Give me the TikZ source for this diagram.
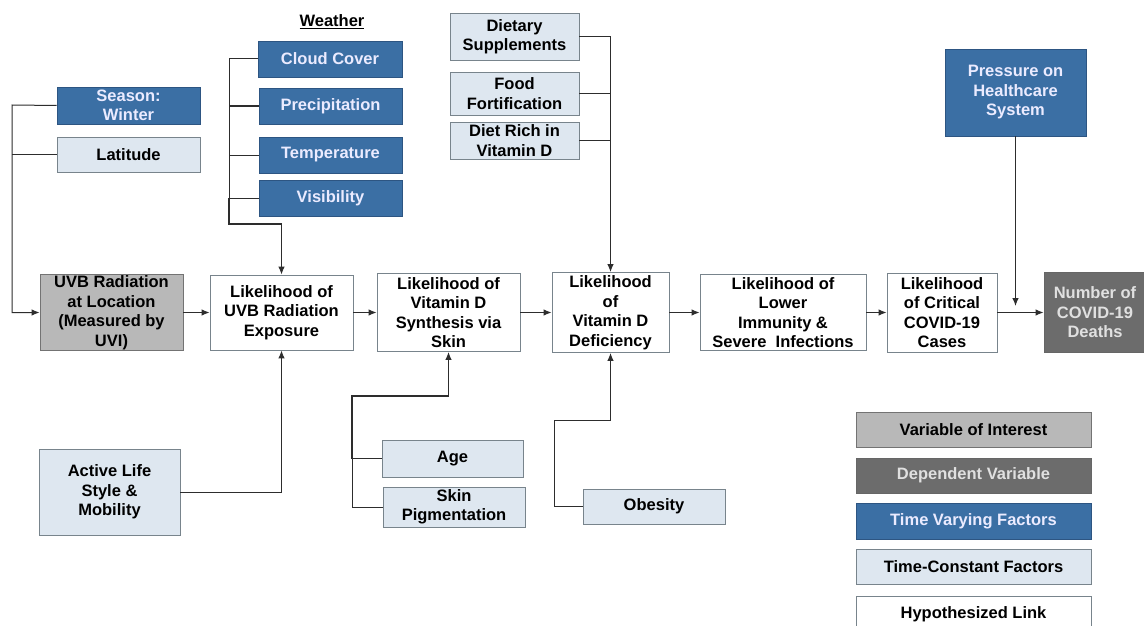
\documentclass[tikz,border=0pt]{standalone}
\usepackage{fontspec}
\setmainfont{Liberation Sans}
\usetikzlibrary{arrows.meta}
\definecolor{tvblue}{RGB}{59,111,164}
\definecolor{tvborder}{RGB}{45,85,130}
\definecolor{lightfill}{RGB}{222,231,240}
\definecolor{voigray}{RGB}{184,184,184}
\definecolor{depgray}{RGB}{108,108,108}
\definecolor{boxline}{RGB}{120,132,140}
\definecolor{linegray}{RGB}{45,45,45}
\begin{document}
\begin{tikzpicture}[x=1pt,y=-1pt,
  font=\bfseries\fontsize{16.5}{19.5}\selectfont,
  box/.style={draw=boxline, line width=0.9pt, align=center, inner sep=1pt, text=black},
  wbox/.style={box, fill=white},
  lbox/.style={box, fill=lightfill},
  bbox/.style={box, fill=tvblue, draw=tvborder, text=white!92!blue},
  gbox/.style={box, fill=voigray, draw=black!55},
  dbox/.style={box, fill=depgray, draw=black!60, text=white!88!black},
  wh/.style 2 args={minimum width=#1pt, minimum height=#2pt},
  conn/.style={draw=linegray, line width=1pt},
  heavy/.style={draw=linegray, line width=2pt},
  arr/.style={conn, -{Latex[length=8pt,width=6.5pt]}}]
\useasboundingbox (0,0) rectangle (1144,626);
\fill[white] (0,0) rectangle (1144,626);

% weather
\node (wlabel) at (332,22) {\underline{Weather}};
\node[bbox, wh={144}{36}] (cloud) at (330,59) {Cloud Cover};
\node[bbox, wh={143}{36}] (precip) at (330.5,106) {Precipitation};
\node[bbox, wh={143}{36}] (temp) at (330.5,155) {Temperature};
\node[bbox, wh={143}{36}] (vis) at (330.5,198) {Visibility};

% season / latitude
\node[bbox, wh={143}{37}] (season) at (128.5,105.5) {Season:\\Winter};
\node[lbox, wh={143}{35}] (lat) at (128.5,154.5) {Latitude};

% main chain
\node[gbox, wh={143}{75}] (uvb) at (111.5,312.5) {UVB Radiation\\at Location\\(Measured by\\UVI)};
\node[wbox, wh={143}{75}] (expo) at (281.5,312.5) {Likelihood of\\UVB Radiation\\Exposure};
\node[wbox, wh={143}{78}] (synth) at (448.5,312.5) {Likelihood of\\Vitamin D\\Synthesis via\\Skin};
\node[wbox, wh={117}{80}] (defic) at (610.5,312.5) {Likelihood\\of\\Vitamin D\\Deficiency};
\node[wbox, wh={166}{76}] (immun) at (783,312.5) {Likelihood of\\Lower\\Immunity \&\\Severe\ \ Infections};
\node[wbox, wh={110}{79}] (crit) at (942,312.5) {Likelihood\\of Critical\\COVID-19\\Cases};
\node[dbox, wh={102}{80}] (deaths) at (1095,312.5) {Number of\\COVID-19\\Deaths};

% pressure
\node[bbox, wh={141}{87}] (press) at (1015.5,92.5) {Pressure on\\Healthcare\\System};

% diet
\node[lbox, wh={129}{47}] (supp) at (514.5,36.5) {Dietary\\Supplements};
\node[lbox, wh={129}{43}] (food) at (514.5,93.5) {Food\\Fortification};
\node[lbox, wh={129}{37}] (dietrich) at (514.5,140.5) {Diet Rich in\\Vitamin D};

% lower factors
\node[lbox, wh={141}{86}] (active) at (109.5,492) {Active Life\\Style \&\\Mobility};
\node[lbox, wh={141}{37}] (age) at (452.5,458.5) {Age};
\node[lbox, wh={142}{40}] (skin) at (454,507) {Skin\\Pigmentation};
\node[lbox, wh={142}{35}] (obesity) at (654,506.5) {Obesity};

% legend
\node[gbox, wh={235}{35}] (lvoi) at (973.5,429.5) {Variable of Interest};
\node[dbox, wh={235}{35}] (ldep) at (973.5,475.5) {Dependent Variable};
\node[bbox, wh={235}{36}] (ltvf) at (973.5,521) {Time Varying Factors};
\node[lbox, wh={235}{35}] (ltcf) at (973.5,566.5) {Time-Constant Factors};
\node[wbox, wh={235}{36}] (lhyp) at (973.5,614) {Hypothesized Link};

% junction coordinates
\coordinate (lx) at (12,105);
\coordinate (wx) at (229,224);
\coordinate (sx) at (352,396);
\coordinate (ox) at (554,420);
\coordinate (pj) at (1015.5,306);

% left bracket
\draw[arr] (season.west) -- (lx) |- (uvb.west);
\draw[conn] (lat.west) -- (lat.west -| lx);

% weather bracket
\draw[conn] (cloud.west) -| (wx);
\draw[conn] (precip.west) -- (precip.west -| wx);
\draw[conn] (temp.west) -- (temp.west -| wx);
\draw[conn] (vis.west) -- (vis.west -| wx);
\draw[heavy] (vis.west -| wx) -- (wx) -- (wx -| expo.north);
\draw[arr] (wx -| expo.north) -- (expo.north);

% main chain
\draw[arr] (uvb.east) -- (expo.west);
\draw[arr] (expo.east) -- (synth.west);
\draw[arr] (synth.east) -- (defic.west);
\draw[arr] (defic.east) -- (immun.west);
\draw[arr] (immun.east) -- (crit.west);
\draw[arr] (crit.east) -- (deaths.west);

% pressure
\draw[arr] (press.south) -- (pj);

% diet
\draw[arr] (supp.east) -| (defic.north);
\draw[conn] (food.east) -- (food.east -| defic.north);
\draw[conn] (dietrich.east) -- (dietrich.east -| defic.north);

% active
\draw[arr] (active.east) -| (expo.south);

% age / skin
\draw[heavy] (age.west -| sx) -- (sx) -- (sx -| synth.south);
\draw[arr] (skin.west) -| (sx) -| (synth.south);
\draw[conn] (age.west) -- (age.west -| sx);

% obesity
\draw[arr] (obesity.west) -| (ox) -| (defic.south);
\end{tikzpicture}
\end{document}
